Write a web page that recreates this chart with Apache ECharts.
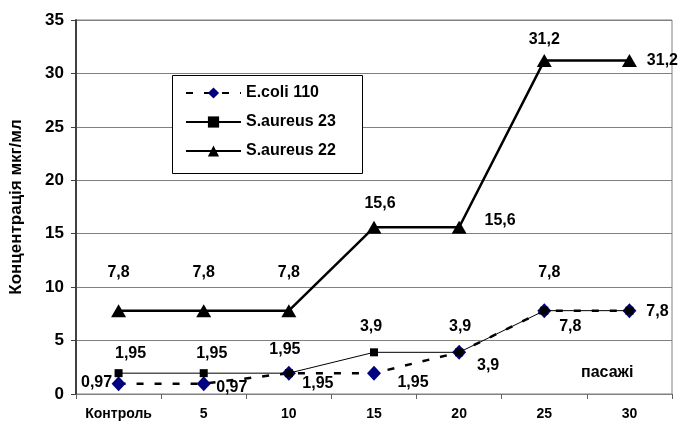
<!DOCTYPE html>
<html>
<head>
<meta charset="utf-8">
<script src="https://cdn.jsdelivr.net/npm/echarts@6/dist/echarts.min.js"></script>
<style>
  html, body { margin: 0; padding: 0; background: #fff; }
  #chart { width: 679px; height: 423px; }
</style>
</head>
<body>
<div id="chart"></div>
<script>
// Passages along the x axis
const passages = ['Контроль', '5', '10', '15', '20', '25', '30'];

// Concentration (мкг/мл) per strain
const ecoli110 = [0.97, 0.97, 1.95, 1.95, 3.9, 7.8, 7.8];
const saureus23 = [1.95, 1.95, 1.95, 3.9, 3.9, 7.8, 7.8];
const saureus22 = [7.8, 7.8, 7.8, 15.6, 15.6, 31.2, 31.2];

const seriesNames = ['E.coli 110', 'S.aureus 23', 'S.aureus 22'];

// Y axis ticks
const yMin = 0, yMax = 35, yStep = 5;

// Label offsets (label centre relative to point), null hides the label
const ecoliLabelOffsets = [[-22, -1], [28, 4], [29, 10], [39, 9], [29, 13], [26, 16], null];
const sa23LabelOffsets = [[12, -20], [8, -20], [-4, -24], [-3, -26], [1, -26], [5, -38], [28, 1]];
const sa22LabelOffsets = [[0, -38], [0, -38], [0, -38], [6, -24], [41, -7], [0, -21], [33, 0]];

const FONT = 'Liberation Sans, Arial, sans-serif';
const labelFont = { fontFamily: FONT, fontWeight: 'bold', fontSize: 16, color: '#000' };

function fmt(v) { return String(v).replace('.', ','); }

function withLabels(values, offsets) {
  return values.map((v, i) => {
    const off = offsets[i];
    if (!off) return { value: v, label: { show: false } };
    return {
      value: v,
      label: Object.assign({
        show: true,
        position: 'inside',
        offset: off,
        align: 'center',
        verticalAlign: 'middle',
        formatter: fmt(v)
      }, labelFont)
    };
  });
}

const chart = echarts.init(document.getElementById('chart'), null, { renderer: 'canvas' });

chart.setOption({
  animation: false,
  backgroundColor: '#fff',
  grid: {
    left: 69, right: 7, top: 20, bottom: 29,
    show: true, borderColor: '#808080', borderWidth: 1
  },
  legend: {
    orient: 'vertical',
    left: 185, top: 85,
    itemWidth: 55, itemHeight: 14, itemGap: 13,
    padding: 0,
    z: 6,
    data: seriesNames,
    textStyle: { fontFamily: FONT, fontWeight: 'bold', fontSize: 16, color: '#000' }
  },
  graphic: [
    {
      type: 'rect', left: 172, top: 75, z: 1,
      shape: { width: 190, height: 98 },
      style: { fill: '#fff', stroke: '#000', lineWidth: 1 }
    },
    {
      type: 'text', left: 581, top: 365, z: 10,
      style: {
        text: 'пасажі', fill: '#000',
        font: 'bold 16px "Liberation Sans", Arial, sans-serif'
      }
    }
  ],
  xAxis: {
    type: 'category',
    data: passages,
    boundaryGap: true,
    axisLine: { lineStyle: { color: '#808080', width: 1 } },
    axisTick: { show: true, length: 5, lineStyle: { color: '#606060' } },
    axisLabel: {
      margin: 13, color: '#000', interval: 0,
      fontFamily: FONT, fontWeight: 'bold', fontSize: 14
    },
    splitLine: { show: false }
  },
  yAxis: {
    type: 'value',
    min: yMin, max: yMax, interval: yStep,
    name: 'Концентрація мкг/мл',
    nameLocation: 'middle',
    nameRotate: 90,
    nameGap: 51,
    nameTextStyle: { fontFamily: FONT, fontWeight: 'bold', fontSize: 17, color: '#000' },
    axisLine: { show: true, lineStyle: { color: '#404040', width: 2 } },
    axisTick: { show: true, length: 5, lineStyle: { color: '#404040' } },
    axisLabel: {
      margin: 12, color: '#000',
      fontFamily: FONT, fontWeight: 'bold', fontSize: 17
    },
    splitLine: { show: true, lineStyle: { color: '#808080', width: 1 } }
  },
  series: [
    {
      name: seriesNames[0],
      type: 'line',
      data: withLabels(ecoli110, ecoliLabelOffsets),
      symbol: 'diamond',
      symbolSize: [14, 15],
      itemStyle: { color: '#000080' },
      lineStyle: { color: '#000', width: 2.5, type: [7, 11] },
      z: 2
    },
    {
      name: seriesNames[1],
      type: 'line',
      data: withLabels(saureus23, sa23LabelOffsets),
      symbol: 'rect',
      symbolSize: 8,
      itemStyle: { color: '#000' },
      lineStyle: { color: '#000', width: 1 },
      z: 3
    },
    {
      name: seriesNames[2],
      type: 'line',
      data: withLabels(saureus22, sa22LabelOffsets),
      symbol: 'triangle',
      symbolSize: [15, 13],
      itemStyle: { color: '#000' },
      lineStyle: { color: '#000', width: 2.5 },
      z: 4
    }
  ]
});
</script>
</body>
</html>
